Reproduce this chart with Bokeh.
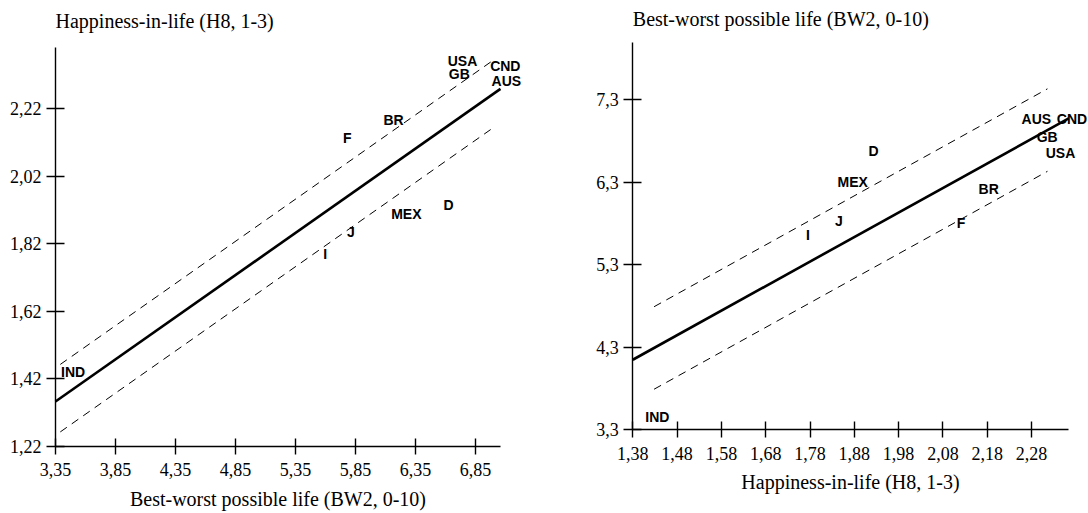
import numpy as np
from bokeh.plotting import figure
from bokeh.layouts import row
from bokeh.models import FixedTicker, ColumnDataSource, LabelSet, Label, CustomJSTickFormatter
from bokeh.core.properties import value
from bokeh.embed import file_html
from bokeh.resources import INLINE

# ---- data ----
countries = ["USA", "GB", "CND", "AUS", "BR", "F", "MEX", "D", "J", "I", "IND"]
bw2 = [6.70, 6.79, 7.09, 7.09, 6.20, 5.79, 6.29, 6.65, 5.82, 5.63, 3.48]   # Best-worst possible life
h8 = [2.35, 2.32, 2.36, 2.30, 2.19, 2.13, 1.89, 1.93, 1.85, 1.78, 1.44]    # Happiness-in-life

left_xticks = [3.35, 3.85, 4.35, 4.85, 5.35, 5.85, 6.35, 6.85]
left_yticks = [1.22, 1.42, 1.62, 1.82, 2.02, 2.22]
right_xticks = [1.38, 1.48, 1.58, 1.68, 1.78, 1.88, 1.98, 2.08, 2.18, 2.28]
right_yticks = [3.3, 4.3, 5.3, 6.3, 7.3]

left_band = 0.10
right_band = 0.50

# label nudges in screen pixels (x: right positive, y: up positive)
left_dx = [5, -9, 1, 2, -4, -1, -2, -3, -1, -4, 2]
left_dy = [4, 1, -5, 1, -1, 1, 6, 2, 2, 3, 0]
right_dx = [-2, -2, 5, -4, -3, -4, -6, -3, -2, -2, -2]
right_dy = [-4, 5, -2, -2, 2, 1, 1, 2, 1, 3, -2]

SERIF = "Liberation Serif"
SANS = "Liberation Sans"
H = 513


def ranges(width, ax_px, ax_val, xs, ay_px, ay_val, ys):
    """Whole canvas is the frame; axis origin sits at pixel (ax_px, ay_px)."""
    return ((ax_val - ax_px / xs, ax_val + (width - ax_px) / xs),
            (ay_val - (H - ay_px) / ys, ay_val + ay_px / ys))


def style(p, xticks, yticks, xdec, ydec, xlabel, xloc, yloc, xbounds, ybounds):
    p.xgrid.visible = False
    p.ygrid.visible = False
    p.outline_line_color = None
    p.xaxis.ticker = FixedTicker(ticks=xticks)
    p.yaxis.ticker = FixedTicker(ticks=yticks)
    p.xaxis.formatter = CustomJSTickFormatter(code="return tick.toFixed(%d).replace('.', ',');" % xdec)
    p.yaxis.formatter = CustomJSTickFormatter(code="return tick.toFixed(%d).replace('.', ',');" % ydec)
    p.xaxis.fixed_location = xloc
    p.yaxis.fixed_location = yloc
    p.xaxis.bounds = xbounds
    p.yaxis.bounds = ybounds
    for ax in (p.xaxis[0], p.yaxis[0]):
        ax.axis_line_color = "black"
        ax.axis_line_width = 1.4
        ax.major_tick_line_color = "black"
        ax.major_tick_line_width = 1.4
        ax.minor_tick_line_color = None
        ax.major_label_text_font = SERIF
        ax.major_label_text_font_size = "18px"
        ax.major_label_text_color = "black"
    p.xaxis.major_label_standoff = 9
    p.yaxis.major_label_standoff = 5
    p.xaxis.major_tick_in = 8
    p.xaxis.major_tick_out = 8
    p.yaxis.major_tick_in = 9
    p.yaxis.major_tick_out = 9
    p.xaxis.axis_label = xlabel
    p.xaxis.axis_label_text_font = SERIF
    p.xaxis.axis_label_text_font_size = "20px"
    p.xaxis.axis_label_text_font_style = "normal"
    p.xaxis.axis_label_text_color = "black"
    p.xaxis.axis_label_standoff = 8


def top_title(p, x, y, text):
    p.add_layout(Label(x=x, y=y, text=text, text_font=SERIF, text_font_size="20px",
                       text_align="left", text_baseline="middle", text_color="black"))


# ---------------- left chart: H8 vs BW2 ----------------
x_l = np.array(bw2)
y_l = np.array(h8)
b1, b0 = np.polyfit(x_l, y_l, 1)

L = dict(ax_px=55, ax_val=3.35, xs=120.0, ay_px=445.7, ay_val=1.22, ys=337.5)
xr1, yr1 = ranges(545, **L)
p1 = figure(width=545, height=H, x_range=xr1, y_range=yr1, title=None,
            output_backend="svg", toolbar_location=None, min_border=0)
style(p1, left_xticks, left_yticks, 2, 2, "Best-worst possible life (BW2, 0-10)",
      1.22, 3.35, (3.35, 7.058), (1.22, 2.402))
top_title(p1, 3.35, L["ay_val"] + (L["ay_px"] - 20) / L["ys"], "Happiness-in-life (H8, 1-3)")

xs = np.array([3.35, 7.058])
p1.line(xs, b0 + b1 * xs, line_color="black", line_width=2.6)
xd = np.array([3.39, 7.0])
p1.line(xd, b0 + b1 * xd + left_band, line_color="black", line_width=1, line_dash="8 6")
p1.line(xd, b0 + b1 * xd - left_band, line_color="black", line_width=1, line_dash="8 6")

src_l = ColumnDataSource(dict(x=bw2, y=h8, name=countries, dx=left_dx, dy=left_dy))
p1.add_layout(LabelSet(x="x", y="y", text="name", x_offset="dx", y_offset="dy", source=src_l,
                       text_font=value(SANS), text_font_style="bold", text_font_size="14px",
                       text_align="center", text_baseline="middle", text_color="black"))

# ---------------- right chart: BW2 vs H8 ----------------
c1, c0 = np.polyfit(y_l, x_l, 1)

R = dict(ax_px=87.3, ax_val=1.38, xs=443.0, ay_px=429.3, ay_val=3.3, ys=82.5)
xr2, yr2 = ranges(543, **R)
p2 = figure(width=543, height=H, x_range=xr2, y_range=yr2, title=None,
            output_backend="svg", toolbar_location=None, min_border=0)
style(p2, right_xticks, right_yticks, 2, 1, "Happiness-in-life (H8, 1-3)",
      3.3, 1.38, (1.38, 2.364), (3.3, 7.998))
top_title(p2, 1.38, R["ay_val"] + (R["ay_px"] - 18) / R["ys"], "Best-worst possible life (BW2, 0-10)")

xs2 = np.array([1.38, 2.364])
p2.line(xs2, c0 + c1 * xs2, line_color="black", line_width=2.6)
xd2 = np.array([1.428, 2.316])
p2.line(xd2, c0 + c1 * xd2 + right_band, line_color="black", line_width=1, line_dash="8 6")
p2.line(xd2, c0 + c1 * xd2 - right_band, line_color="black", line_width=1, line_dash="8 6")

src_r = ColumnDataSource(dict(x=h8, y=bw2, name=countries, dx=right_dx, dy=right_dy))
p2.add_layout(LabelSet(x="x", y="y", text="name", x_offset="dx", y_offset="dy", source=src_r,
                       text_font=value(SANS), text_font_style="bold", text_font_size="14px",
                       text_align="center", text_baseline="middle", text_color="black"))

layout = row(p1, p2)
open("out.html", "w").write(file_html(layout, INLINE))
